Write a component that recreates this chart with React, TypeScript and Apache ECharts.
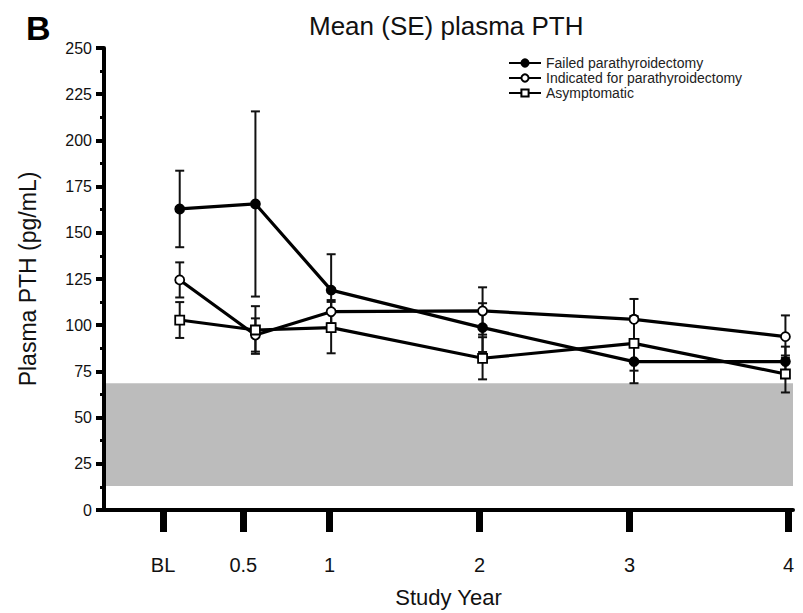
import React, { useEffect, useRef } from 'react';
import * as echarts from 'echarts';

const seriesNames = ['Failed parathyroidectomy', 'Indicated for parathyroidectomy', 'Asymptomatic'];
const studyYears = [0, 0.5, 1, 2, 3, 4];
const failedMean = [162.9, 165.6, 119.0, 98.7, 80.3, 80.3];
const failedSE = [20.7, 50.1, 19.4, 13.2, 11.7, 8.1];
const indicatedMean = [124.5, 94.7, 107.3, 107.7, 103.2, 93.8];
const indicatedSE = [9.5, 9.0, 6.3, 12.8, 11.0, 11.5];
const asymptomaticMean = [102.8, 97.4, 98.7, 82.1, 90.2, 73.6];
const asymptomaticSE = [9.7, 12.9, 13.9, 11.4, 14.8, 10.0];
const xTickPositions = [-0.11, 0.42, 0.99, 1.98, 2.97, 4.02];
const xTickLabels = ['BL', '0.5', '1', '2', '3', '4'];
const normalRange = [13, 68.6];

const FONT = '"Liberation Sans", Arial, Helvetica, sans-serif';

function errorSeries(means: number[], ses: number[]) {
  return {
    type: 'custom',
    z: 3,
    silent: true,
    data: studyYears.map((x, i) => [x, means[i] - ses[i], means[i] + ses[i]]),
    encode: { x: 0, y: [1, 2] },
    renderItem: (params: any, api: any) => {
      const x = api.value(0);
      const pLo = api.coord([x, api.value(1)]);
      const pHi = api.coord([x, api.value(2)]);
      const hw = 4.5;
      const style = { stroke: '#111', lineWidth: 2 };
      return {
        type: 'group',
        children: [
          { type: 'line', shape: { x1: pHi[0], y1: pHi[1], x2: pLo[0], y2: pLo[1] }, style },
          { type: 'line', shape: { x1: pHi[0] - hw, y1: pHi[1], x2: pHi[0] + hw, y2: pHi[1] }, style },
          { type: 'line', shape: { x1: pLo[0] - hw, y1: pLo[1], x2: pLo[0] + hw, y2: pLo[1] }, style },
        ],
      };
    },
  };
}

function lineSeries(name: string, means: number[], symbol: string, filled: boolean) {
  return {
    name,
    type: 'line',
    z: 5,
    data: studyYears.map((x, i) => [x, means[i]]),
    symbol,
    symbolSize: 9,
    showAllSymbol: true,
    lineStyle: { color: '#000', width: 3.2 },
    itemStyle: { color: filled ? '#000' : '#fff', borderColor: '#000', borderWidth: 1.8 },
  };
}

export default function App() {
  const ref = useRef<HTMLDivElement>(null);
  useEffect(() => {
    if (!ref.current) return;
    const chart = echarts.init(ref.current, undefined, { renderer: 'svg' });
    chart.setOption({
      animation: false,
      backgroundColor: '#fff',
      textStyle: { fontFamily: FONT },
      title: [
        { text: 'B', left: 21, top: 6, textStyle: { fontSize: 34, fontWeight: 'bold', color: '#000', fontFamily: FONT } },
        { text: 'Mean (SE) plasma PTH', left: 304, top: 8, textStyle: { fontSize: 26, fontWeight: 'normal', color: '#111', fontFamily: FONT } },
      ],
      legend: {
        orient: 'vertical',
        left: 503,
        top: 51,
        itemWidth: 32,
        itemHeight: 9,
        itemGap: 1,
        data: seriesNames,
        textStyle: { fontSize: 14, color: '#222', fontFamily: FONT },
      },
      grid: { left: 104, right: 10, top: 48, bottom: 103, outerBoundsMode: 'none' },
      xAxis: {
        type: 'value',
        min: -0.5,
        max: 4.05,
        name: 'Study Year',
        nameLocation: 'middle',
        nameGap: 76,
        nameTextStyle: { fontSize: 22, color: '#111', fontFamily: FONT },
        axisLine: { show: true, onZero: false, lineStyle: { color: '#000', width: 4 } },
        axisTick: { show: true, customValues: xTickPositions, length: 22, lineStyle: { color: '#000', width: 7 } },
        axisLabel: {
          customValues: xTickPositions,
          formatter: (v: number) => {
            const i = xTickPositions.findIndex((p) => Math.abs(p - v) < 1e-6);
            return i >= 0 ? xTickLabels[i] : '';
          },
          fontSize: 20,
          color: '#111',
          margin: 45,
          fontFamily: FONT,
        },
        splitLine: { show: false },
      },
      yAxis: {
        type: 'value',
        min: 0,
        max: 250,
        interval: 25,
        name: 'Plasma PTH (pg/mL)',
        nameLocation: 'middle',
        nameGap: 65,
        nameTextStyle: { fontSize: 23, color: '#111', fontFamily: FONT },
        axisLine: { show: true, onZero: false, lineStyle: { color: '#000', width: 4 } },
        axisTick: { show: true, length: 8, lineStyle: { color: '#000', width: 4 } },
        minorTick: { show: true, splitNumber: 2, length: 4, lineStyle: { color: '#000', width: 3 } },
        axisLabel: { fontSize: 16, color: '#111', margin: 12, fontFamily: FONT },
        splitLine: { show: false },
      },
      series: [
        {
          type: 'custom',
          z: 1,
          silent: true,
          data: [[normalRange[0], normalRange[1]]],
          encode: { y: [0, 1] },
          renderItem: (params: any, api: any) => {
            const cs = params.coordSys;
            const yLo = api.coord([0, api.value(0)])[1];
            const yHi = api.coord([0, api.value(1)])[1];
            return {
              type: 'rect',
              shape: { x: cs.x + 2, y: yHi, width: cs.width - 2, height: yLo - yHi },
              style: { fill: '#bcbcbc' },
            };
          },
        },
        errorSeries(failedMean, failedSE),
        errorSeries(indicatedMean, indicatedSE),
        errorSeries(asymptomaticMean, asymptomaticSE),
        lineSeries(seriesNames[0], failedMean, 'circle', true),
        lineSeries(seriesNames[1], indicatedMean, 'circle', false),
        lineSeries(seriesNames[2], asymptomaticMean, 'rect', false),
      ],
    });
    return () => chart.dispose();
  }, []);
  return <div ref={ref} style={{ position: 'fixed', left: 0, top: 0, width: 803, height: 613 }} />;
}
